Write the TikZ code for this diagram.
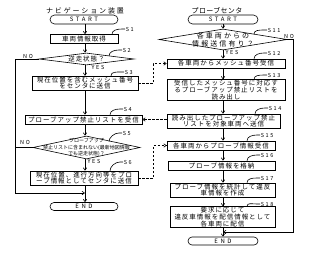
\documentclass[tikz,border=0pt]{standalone}
\usepackage{fontspec}
\setmainfont{Noto Sans CJK JP}
\usetikzlibrary{arrows.meta,shapes.geometric,shapes.misc}

\begin{document}
\begin{tikzpicture}[x=1pt,y=-1pt,line width=0.6pt,
    txt/.style={font=\fontsize{6.5}{6.8}\selectfont\addfontfeature{LetterSpace=15}},
    proc/.style={draw,txt,align=center,inner xsep=1pt,inner ysep=0.5pt},
    decision/.style={draw,diamond,inner sep=0pt},
    term/.style={draw,rounded rectangle,inner sep=0pt,
      font=\fontsize{6}{6}\selectfont\addfontfeature{LetterSpace=43}},
    small/.style={inner sep=0.5pt,font=\fontsize{5.5}{5.5}\selectfont\addfontfeature{LetterSpace=30}},
    flow/.style={-{Straight Barb[length=2.5pt,width=3.5pt]}},
    msg/.style={flow,dash pattern=on 2.5pt off 1.5pt}]
  \useasboundingbox (0,0) rectangle (334,254);
  \coordinate (colL) at (85,0);
  \coordinate (colR) at (223,0);

  % navigation unit
  \node[font=\fontsize{7}{7}\selectfont\addfontfeature{LetterSpace=27}] (navtitle) at (85,11) {ナビゲーション装置};
  \node[term,minimum width=68,minimum height=9] (start1) at (84,19.5) {START};
  \node[proc,minimum width=68,minimum height=9] (s1) at (84,39) {車両情報取得};
  \node[decision,minimum width=95,minimum height=12] (s2) at (86.5,59) {};
  \node[txt] (s2t) at (s2) {逆走状態？};
  \node[proc,minimum width=106,minimum height=13] (s3) at (85,83) {現在位置を含むメッシュ番号\\をセンタに送信};
  \node[proc,minimum width=117,minimum height=9] (s4) at (83.5,119.5) {プローブアップ禁止リストを受信};
  \node[decision,minimum width=107,minimum height=23] (s5) at (86.5,147.5) {};
  \node[align=center,font=\fontsize{5}{6.3}\selectfont] (s5t) at (s5) {プローブアップ\\禁止リストに含まれない(最新地図情報\\でも逆走状態)？};
  \node[proc,minimum width=108,minimum height=14] (s6) at (84,178) {現在位置、進行方向等をプロ\\ーブ情報としてセンタに送信};
  \node[term,minimum width=68,minimum height=8] (end1) at (84,206.5) {END};

  % probe center
  \node[font=\fontsize{7}{7}\selectfont\addfontfeature{LetterSpace=5}] (centertitle) at (217,11) {プローブセンタ};
  \node[term,minimum width=70,minimum height=9] (start2) at (223,19.5) {START};
  \node[decision,minimum width=128,minimum height=21] (s11) at (223,39.5) {};
  \node[align=center,font=\fontsize{7}{8}\selectfont\addfontfeature{LetterSpace=30}] (s11t) at (s11) {各車両からの\\情報送信有り？};
  \node[proc,minimum width=118,minimum height=9] (s12) at (226,63.5) {各車両からメッシュ番号受信};
  \node[proc,minimum width=118,minimum height=20] (s13) at (226,90) {受信したメッシュ番号に対応す\\るプローブアップ禁止リストを\\読み出し};
  \node[proc,minimum width=113,minimum height=12] (s14) at (223.5,121) {読み出したプローブアップ禁止\\リストを対象車両へ送信};
  \node[proc,minimum width=108,minimum height=9] (s15) at (221,145.5) {各車両からプローブ情報受信};
  \node[proc,minimum width=107,minimum height=9] (s16) at (221.5,165.5) {プローブ情報を格納};
  \node[proc,minimum width=105,minimum height=14] (s17) at (222.5,190) {プローブ情報を統計して違反\\車情報を作成};
  \node[proc,minimum width=105,minimum height=20] (s18) at (222.5,217) {要求に応じて\\違反車情報を配信情報として\\各車両に配信};
  \node[term,minimum width=70,minimum height=8] (end2) at (223,241) {END};

  % main flow
  \foreach \a/\b in {start1/s1,s1/s2,s2/s3,s3/s4,s4/s5,s5/s6,s6/end1}
    \draw[flow] (\a.south -| colL) -- (\b.north -| colL);
  \foreach \a/\b in {start2/s11,s11/s12,s12/s13,s13/s14,s14/s15,s15/s16,s16/s17,s17/s18,s18/end2}
    \draw[flow] (\a.south -| colR) -- (\b.north -| colR);

  % NO branches
  \coordinate (noL) at (15,0);
  \coordinate (noR) at (293,0);
  \coordinate (j1) at (85,193);
  \coordinate (j2) at (223,232);
  \draw[flow] (s2.west) -- (s2.west -| noL) |- (j1);
  \draw (s5.west) -- (s5.west -| noL);
  \draw[flow] (s11.east) -- (s11.east -| noR) |- (j2);

  \node[small] (no2) at (28,56.5) {NO};
  \node[small] (yes2) at (98,67.5) {YES};
  \node[small] (no5) at (25,142.5) {NO};
  \node[small] (yes5) at (94,161) {YES};
  \node[small] (yes11) at (232,52) {YES};
  \node[small] (no11) at (289,36) {NO};

  % messages between the two units
  \draw[msg] (s3.east) -- ++(15,0) |- (s12.west);
  \draw[msg] (s14.west |- s4.east) -- (s4.east);
  \draw[msg] (s6.east) -- ++(15,0) |- (s15.west);

  % step numbers
  \foreach \n/\x/\y/\a in {1/125/29/s1.north, 2/122/50/s2.north east, 3/124/72/s3.north,
      4/123/109/s4.north, 5/122/133/s5.north east, 6/123/162/s6.north,
      11/267/30/s11.north east, 12/267/53/s12.north, 13/267/75/s13.north,
      14/268/108/s14.north, 15/260/135/s15.north, 16/260/155/s16.north,
      17/260/178/s17.north, 18/260/204/s18.north}
  {
    \node[small,anchor=west] (l\n) at (\x,\y) {S\n};
    \draw (l\n.west) -- ++(-3,0) .. controls +(-5,0) and +(0,-4) .. ({\x-13},0 |- \a);
  }
\end{tikzpicture}
\end{document}
